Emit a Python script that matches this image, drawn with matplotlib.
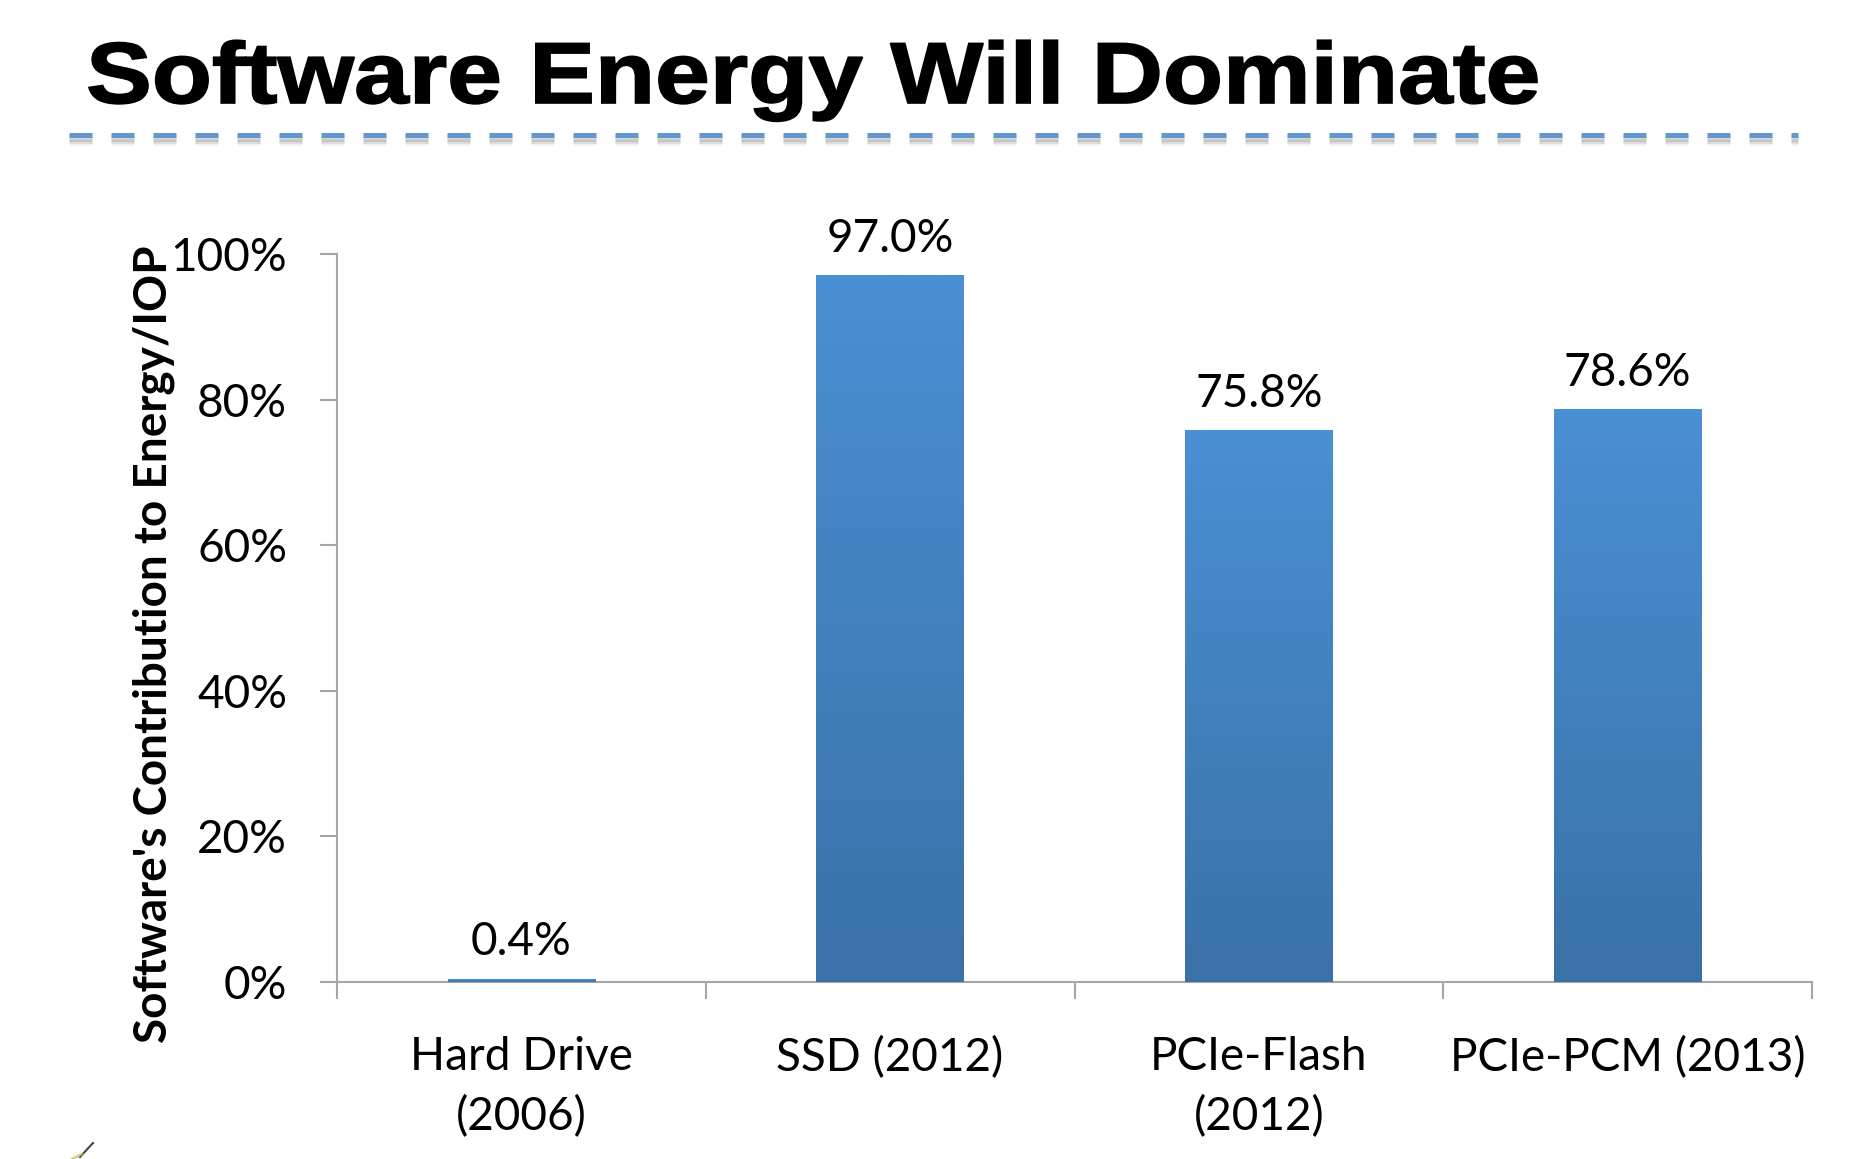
import numpy as np
import matplotlib
matplotlib.use('Agg')
import matplotlib.pyplot as plt
from matplotlib.colors import LinearSegmentedColormap
from matplotlib.lines import Line2D
from matplotlib.textpath import TextPath
from matplotlib.patches import PathPatch
from matplotlib.font_manager import FontProperties
from matplotlib.transforms import Affine2D, IdentityTransform

# data
categories = ['Hard Drive\n(2006)', 'SSD (2012)', 'PCIe-Flash\n(2012)', 'PCIe-PCM (2013)']
values = [0.4, 97.0, 75.8, 78.6]
value_labels = ['0.4%', '97.0%', '75.8%', '78.6%']
yticks = [0, 20, 40, 60, 80, 100]
title = 'Software Energy Will Dominate'

W, H = 1861, 1159
fig = plt.figure(figsize=(W / 100, H / 100), dpi=100)
fig.patch.set_facecolor('white')

# title: heavy sans, a bit wider than Liberation Sans Bold -> stretch the path
tp = TextPath((0, 0), title, size=62 / 0.716,
              prop=FontProperties(family='Liberation Sans', weight='bold'))
ext = tp.get_extents()
sx = 1448 / ext.width
tr = Affine2D().translate(-ext.x0, 0).scale(sx, 1).translate(89, H - 103)
fig.add_artist(PathPatch(tr.transform_path(tp), facecolor='black', edgecolor='black',
                         lw=1.2, transform=IdentityTransform()))

# dashed underline with soft shadow
lw = 3.6
dash = (0, (4.6, 3.8))
for off, a in [(4, 0.35), (6, 0.25), (8, 0.12)]:
    fig.add_artist(Line2D([69 / W, 1798 / W], [1 - (135 + off) / H] * 2, lw=lw,
                          color='#9a9a9a', alpha=a, linestyle=dash, dash_capstyle='butt'))
fig.add_artist(Line2D([69 / W, 1798 / W], [1 - 135 / H] * 2, lw=lw,
                      color='#6396cd', linestyle=dash, dash_capstyle='butt'))

# little pen mark in the corner
fig.add_artist(Line2D([93 / W, 80 / W], [1 - 1143 / H, 1 - 1157 / H], lw=1.5, color='#444444'))
fig.add_artist(Line2D([82 / W, 72 / W], [1 - 1154 / H, 1 - 1159 / H], lw=2, color='#c8c060', alpha=0.7))

ax = fig.add_axes([337 / W, 1 - 982 / H, (1812 - 337) / W, (982 - 254) / H])
x = np.arange(len(categories))
bars = ax.bar(x, values, width=0.4, color='#4484c4', zorder=2)

# vertical gradient inside each bar
cmap = LinearSegmentedColormap.from_list('bar', ['#3a71a8', '#4a90d4'])
grad = np.linspace(0, 1, 256).reshape(-1, 1)
for b in bars:
    x0, y0 = b.get_x(), b.get_y()
    ax.imshow(grad, extent=[x0, x0 + b.get_width(), y0, y0 + b.get_height()],
              origin='lower', cmap=cmap, aspect='auto', zorder=3)

for xi, v, lab in zip(x, values, value_labels):
    ax.annotate(lab, (xi, v), xytext=(0, 17), textcoords='offset points',
                ha='center', va='baseline', fontsize=33, family='Lato')

ax.set_xlim(-0.5, len(categories) - 0.5)
ax.set_ylim(0, 100)
ax.set_yticks(yticks)
ax.set_yticklabels([f'{t}%' for t in yticks], family='Lato', fontsize=33)
ax.set_xticks(x)
ax.set_xticklabels(categories, family='Lato', fontsize=33, linespacing=1.5)
ax.set_xticks(np.arange(len(categories) + 1) - 0.5, minor=True)

grey = '#a6a6a6'
for s in ['top', 'right']:
    ax.spines[s].set_visible(False)
for s in ['left', 'bottom']:
    ax.spines[s].set_color(grey)
    ax.spines[s].set_linewidth(1.5)
ax.tick_params(axis='x', which='major', length=0, pad=39)
ax.tick_params(axis='x', which='minor', length=12, width=1.5, color=grey)
ax.tick_params(axis='y', length=12, width=1.5, color=grey, pad=24)

fig.text(154 / W, 1 - 644 / H, "Software's Contribution to Energy/IOP", rotation=90,
         ha='center', va='center', fontsize=33, fontweight='bold', family='Lato')

fig.savefig('out.png', dpi=100, facecolor='white')
